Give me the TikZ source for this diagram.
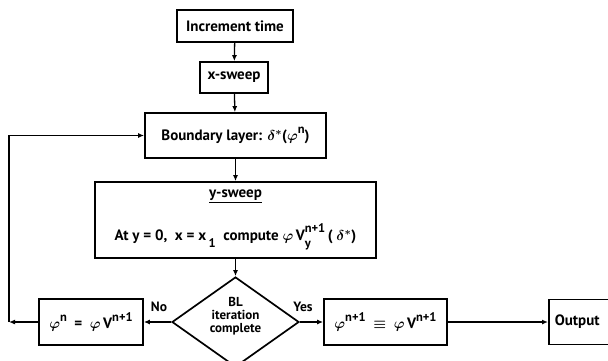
\documentclass[tikz,border=0pt]{standalone}
\usepackage{fontspec}
\setmainfont{PT Sans}
\usetikzlibrary{shapes.geometric,arrows.meta}
\newcommand\Sp[1]{\raisebox{0.5em}{\fontsize{12.5}{12}\selectfont #1}}
\newcommand\Sb[1]{\raisebox{-0.45em}{\fontsize{12.5}{12}\selectfont #1}}
\newcommand\ph{$\varphi$}
\begin{document}
\begin{tikzpicture}[x=1pt,y=-1pt,
  box/.style={draw, line width=1.7pt, inner sep=0pt, font=\boldmath\bfseries\fontsize{15}{17}\selectfont},
  arr/.style={line width=1.3pt, -{Latex[length=6pt,width=5pt]}},
  lbl/.style={font=\bfseries\fontsize{13.5}{15}\selectfont}]
\useasboundingbox (0,0) rectangle (608,360);
\node[box, minimum width=116pt, minimum height=32pt] (inc) at (235,26) {Increment time};
\node[box, minimum width=68pt, minimum height=31pt] (xs) at (234,77.5) {x-sweep};
\node[box, minimum width=181pt, minimum height=45pt] (bl) at (235.5,135.5) {Boundary layer: $\delta^*$(\ph\Sp{n})};
\node[box, minimum width=281pt, minimum height=76pt, align=center] (ys) at (235.5,220)
  {\underline{y-sweep}\\[20pt] At y = 0, \ x = x\,\Sb{1}\ \ compute \ph\,V\rlap{\Sb{y}}\Sp{n+1}\,( $\delta^*$)};
\node[draw, diamond, line width=1.7pt, inner sep=0pt, minimum width=127pt, minimum height=90pt] (dia) at (235.5,322) {};
\node[lbl, align=center, inner sep=0pt, font=\bfseries\fontsize{13}{14}\selectfont] (diat) at (235.5,316) {BL\\[-1pt]iteration\\[-1pt]complete};
\node[box, minimum width=104pt, minimum height=46pt] (phin) at (91,322) {\ph\Sp{n} \ = \ \ph\,V\Sp{n+1}};
\node[box, minimum width=123pt, minimum height=46pt] (phin1) at (385.5,322) {\ph\Sp{n+1} \ $\equiv$ \ \ph\,V\Sp{n+1}};
\node[box, minimum height=45pt, text width=70pt, align=left, inner xsep=6pt, anchor=west] (out) at (548,322) {Output};
\coordinate (fb) at (9,322);
\draw[arr] (inc) -- (xs);
\draw[arr] (xs) -- (bl);
\draw[arr] (bl) -- (ys);
\draw[arr] (ys) -- (dia);
\draw[arr] (dia.west) -- (phin);
\draw[arr] (dia.east) -- (phin1);
\draw[arr] (phin1) -- (out);
\draw[arr] (phin.west) -- (fb);
\draw[arr] (fb) |- (bl.west);
\node[lbl] (no) at (159,307) {No};
\node[lbl] (yes) at (303,307) {Yes};
\end{tikzpicture}
\end{document}
